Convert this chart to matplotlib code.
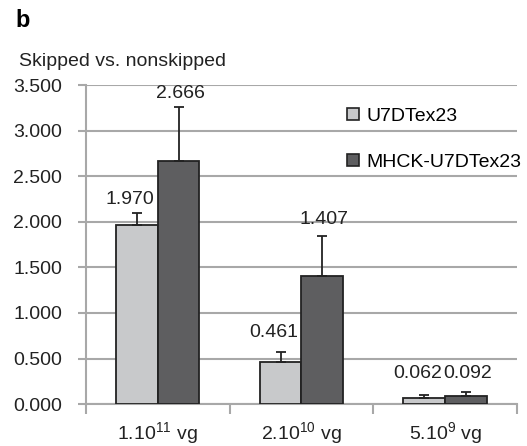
import numpy as np
import matplotlib.pyplot as plt
from matplotlib.lines import Line2D

plt.rcParams['font.family'] = ['Liberation Sans', 'DejaVu Sans']
plt.rcParams['mathtext.fontset'] = 'custom'
plt.rcParams['mathtext.rm'] = 'Liberation Sans'

categories = [r'1.10$^{11}$ vg', r'2.10$^{10}$ vg', r'5.10$^{9}$ vg']
u7d_vals = [1.970, 0.461, 0.062]
u7d_err = [0.13, 0.11, 0.035]
mhck_vals = [2.666, 1.407, 0.092]
mhck_err = [0.60, 0.44, 0.036]
series_names = ['U7DTex23', 'MHCK-U7DTex23']
yticks = [0.0, 0.5, 1.0, 1.5, 2.0, 2.5, 3.0, 3.5]

light = '#c8c9cb'
dark = '#5e5e60'
edge = '#222222'
grid_c = '#a8a8a8'
txt = '#222222'

fig = plt.figure(figsize=(5.27, 4.46), dpi=100)
ax = fig.add_axes([0.163, 0.094, 0.818, 0.715])

x = np.arange(len(categories))
w = 0.29
# label nudges in points (dx, dy above error cap), per bar
series = [(u7d_vals, u7d_err, light, -w / 2, -5, [3.6, 8, 9.4]),
          (mhck_vals, mhck_err, dark, w / 2, 1, [2.9, 5.8, 7.2])]
for vals, errs, col, off, dx, dys in series:
    ax.bar(x + off, vals, w, color=col, edgecolor=edge, linewidth=1.3, zorder=3)
    ax.errorbar(x + off, vals, yerr=[np.zeros(len(errs)), errs], fmt='none',
                ecolor=edge, elinewidth=1.3, capsize=3.7, capthick=1.3, zorder=4)
    for xi, v, e, dy in zip(x + off, vals, errs, dys):
        ax.annotate('%.3f' % v, (xi, v + e), xytext=(dx, dy), textcoords='offset points',
                    ha='center', va='bottom', fontsize=14, color=txt)

ax.set_ylim(0, 3.5)
ax.set_xlim(-0.5, 2.5)
ax.set_yticks(yticks)
ax.set_yticklabels(['%.3f' % t for t in yticks], fontsize=14, color=txt)
ax.yaxis.grid(True, color=grid_c, linewidth=1.5, zorder=0)
ax.tick_params(axis='y', length=6, color=grid_c, width=1.5, pad=11)

ax.set_xticks([-0.5, 0.5, 1.5, 2.5])
ax.set_xticklabels([])
ax.set_xticks(x, minor=True)
ax.set_xticklabels(categories, minor=True, fontsize=14, color=txt)
ax.tick_params(axis='x', which='major', length=7, color=grid_c, width=1.5)
ax.tick_params(axis='x', which='minor', length=0, pad=12)

for s in ['top', 'right']:
    ax.spines[s].set_visible(False)
for s in ['left', 'bottom']:
    ax.spines[s].set_color(grid_c)
    ax.spines[s].set_linewidth(1.5)

handles = [Line2D([], [], marker='s', linestyle='none', markersize=9,
                  markerfacecolor=c, markeredgecolor=edge, markeredgewidth=1.2)
           for c in (light, dark)]
ax.legend(handles, series_names, loc='upper left', bbox_to_anchor=(0.579, 0.96),
          frameon=False, fontsize=14, handlelength=0.8, handletextpad=0.3,
          labelspacing=1.45, borderpad=0)

fig.text(0.03, 0.94, 'b', fontsize=17, fontweight='bold')
fig.text(0.036, 0.853, 'Skipped vs. nonskipped', fontsize=14, color=txt)

fig.savefig('out.png', dpi=100)
